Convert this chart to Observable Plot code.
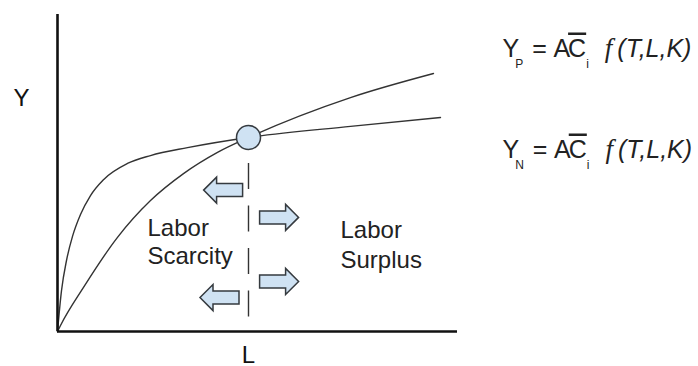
<!DOCTYPE html>
<html><head><meta charset="utf-8">
<script src="https://cdn.jsdelivr.net/npm/d3@7"></script>
<script src="https://cdn.jsdelivr.net/npm/@observablehq/plot@0.6"></script>
<style>body{margin:0;background:#fff} svg{display:block}</style>
</head><body><div id="chart"></div>
<script>
// ---- data (L on x, Y on y, arbitrary units 0..100) ----
const curveN_L = [0, 1, 2.25, 3.75, 5.75, 8.25, 11.5, 17.5, 23.25, 32.5, 47.75, 73.25, 95.75];
const curveN_Y = [0, 12.9, 22.4, 30.0, 36.9, 42.9, 47.9, 53.0, 55.5, 58.0, 61.2, 64.7, 67.5];
const curveP_L = [0, 0.75, 6.5, 15, 23.25, 31.5, 40, 47.75, 73.25, 94];
const curveP_Y = [0, 1.9, 13.9, 29.7, 41.3, 49.8, 56.5, 61.2, 73.8, 81.4];
const eqL = [47.75];
const eqY = [61.2];
const dashY = [53, 4.4];
const leftArrowL = [41.4, 40.5];
const leftArrowY = [44.6, 10.7];
const rightArrowL = [55.4, 55.4];
const rightArrowY = [36.0, 15.8];
const regionText = ["Labor", "Scarcity", "Labor", "Surplus"];
const regionL = [22.5, 22.5, 70.75, 70.75];
const regionY = [32.7, 23.6, 31.8, 22.3];
const axisText = ["Y", "L"];
const axisL = [-9, 47.75];
const axisY = [73.7, -7.5];
const eqSubs = ["P", "N"];
const eqPosL = [111.25, 111.25];
const eqPosY = [88.96, 57.1];
const eqFunc = "f";
const eqArgs = "(T,L,K)";

// ---- build tables ----
const curves = [
  ...curveN_L.map((L, i) => ({series: "Y_N", L, Y: curveN_Y[i]})),
  ...curveP_L.map((L, i) => ({series: "Y_P", L, Y: curveP_Y[i]}))
];
const eq = eqL.map((L, i) => ({L, Y: eqY[i]}));
const leftArrows = leftArrowL.map((L, i) => ({L, Y: leftArrowY[i]}));
const rightArrows = rightArrowL.map((L, i) => ({L, Y: rightArrowY[i]}));
const regions = regionText.map((t, i) => ({t, L: regionL[i], Y: regionY[i]}));
const axisLabels = axisText.map((t, i) => ({t, L: axisL[i], Y: axisY[i]}));
const eqs = eqSubs.map((s, i) => ({s, L: eqPosL[i], Y: eqPosY[i]}));

function blockArrow(dir) {
  return {
    draw(ctx) {
      const pts = [[-19.5,-6.5],[6.5,-6.5],[6.5,-13],[19.5,0],[6.5,13],[6.5,6.5],[-19.5,6.5]];
      pts.forEach(([x, y], i) => { x *= dir; i ? ctx.lineTo(x, y) : ctx.moveTo(x, y); });
      ctx.closePath();
    }
  };
}

const arrowFill = "#cfe2f3", arrowStroke = "#353a3f";

const svg = Plot.plot({
  width: 698, height: 366,
  marginLeft: 57, marginRight: 241, marginTop: 14, marginBottom: 35,
  x: {domain: [0, 100], axis: null},
  y: {domain: [0, 100], axis: null},
  style: {fontFamily: "'Liberation Sans', Arial, sans-serif", background: "white"},
  marks: [
    Plot.line(curves, {x: "L", y: "Y", z: "series", curve: "monotone-x", stroke: "#333", strokeWidth: 1.4}),
    Plot.ruleX(eq, {x: "L", y1: dashY[0], y2: dashY[1], stroke: "#333", strokeWidth: 1.4, strokeDasharray: "26,16.5"}),
    Plot.ruleX([0], {y1: 0, y2: 100, stroke: "#111", strokeWidth: 2.6}),
    Plot.ruleY([0], {x1: 0, x2: 100, stroke: "#111", strokeWidth: 2.6}),
    Plot.dot(eq, {x: "L", y: "Y", r: 12, fill: arrowFill, stroke: arrowStroke, strokeWidth: 1.5}),
    Plot.dot(leftArrows, {x: "L", y: "Y", symbol: blockArrow(-1), r: 10, fill: arrowFill, stroke: arrowStroke, strokeWidth: 1.5}),
    Plot.dot(rightArrows, {x: "L", y: "Y", symbol: blockArrow(1), r: 10, fill: arrowFill, stroke: arrowStroke, strokeWidth: 1.5}),
    Plot.text(regions, {x: "L", y: "Y", text: "t", textAnchor: "start", fontSize: 24, fill: "#222"}),
    Plot.text(axisLabels, {x: "L", y: "Y", text: "t", textAnchor: "middle", fontSize: 24, fill: "#111"}),
    Plot.text(eqs, {x: "L", y: "Y", text: d => "Y_" + d.s, textAnchor: "start", fontSize: 25, fill: "#222"})
  ]
});

d3.select(svg).selectAll("text").each(function () {
  const m = /^Y_(\w)$/.exec(this.textContent);
  if (!m) return;
  const sel = d3.select(this);
  sel.text(null);
  sel.append("tspan").text("Y");
  sel.append("tspan").attr("font-size", 12).attr("dx", -4).attr("dy", 11).text(m[1]);
  sel.append("tspan").attr("dx", 9).attr("dy", -11).text("=");
  sel.append("tspan").attr("dx", 6.6).text("A");
  sel.append("tspan").attr("dx", -2).attr("text-decoration", "overline").text("C");
  sel.append("tspan").attr("font-size", 12).attr("dy", 11).text("i");
  sel.append("tspan").attr("dy", -11).attr("dx", 16).attr("font-family", "'Liberation Serif', serif").attr("font-style", "italic").attr("font-size", 27).text(eqFunc);
  sel.append("tspan").attr("dx", 5).attr("font-style", "italic").text(eqArgs);
});

document.getElementById("chart").appendChild(svg);
</script>
</body></html>
